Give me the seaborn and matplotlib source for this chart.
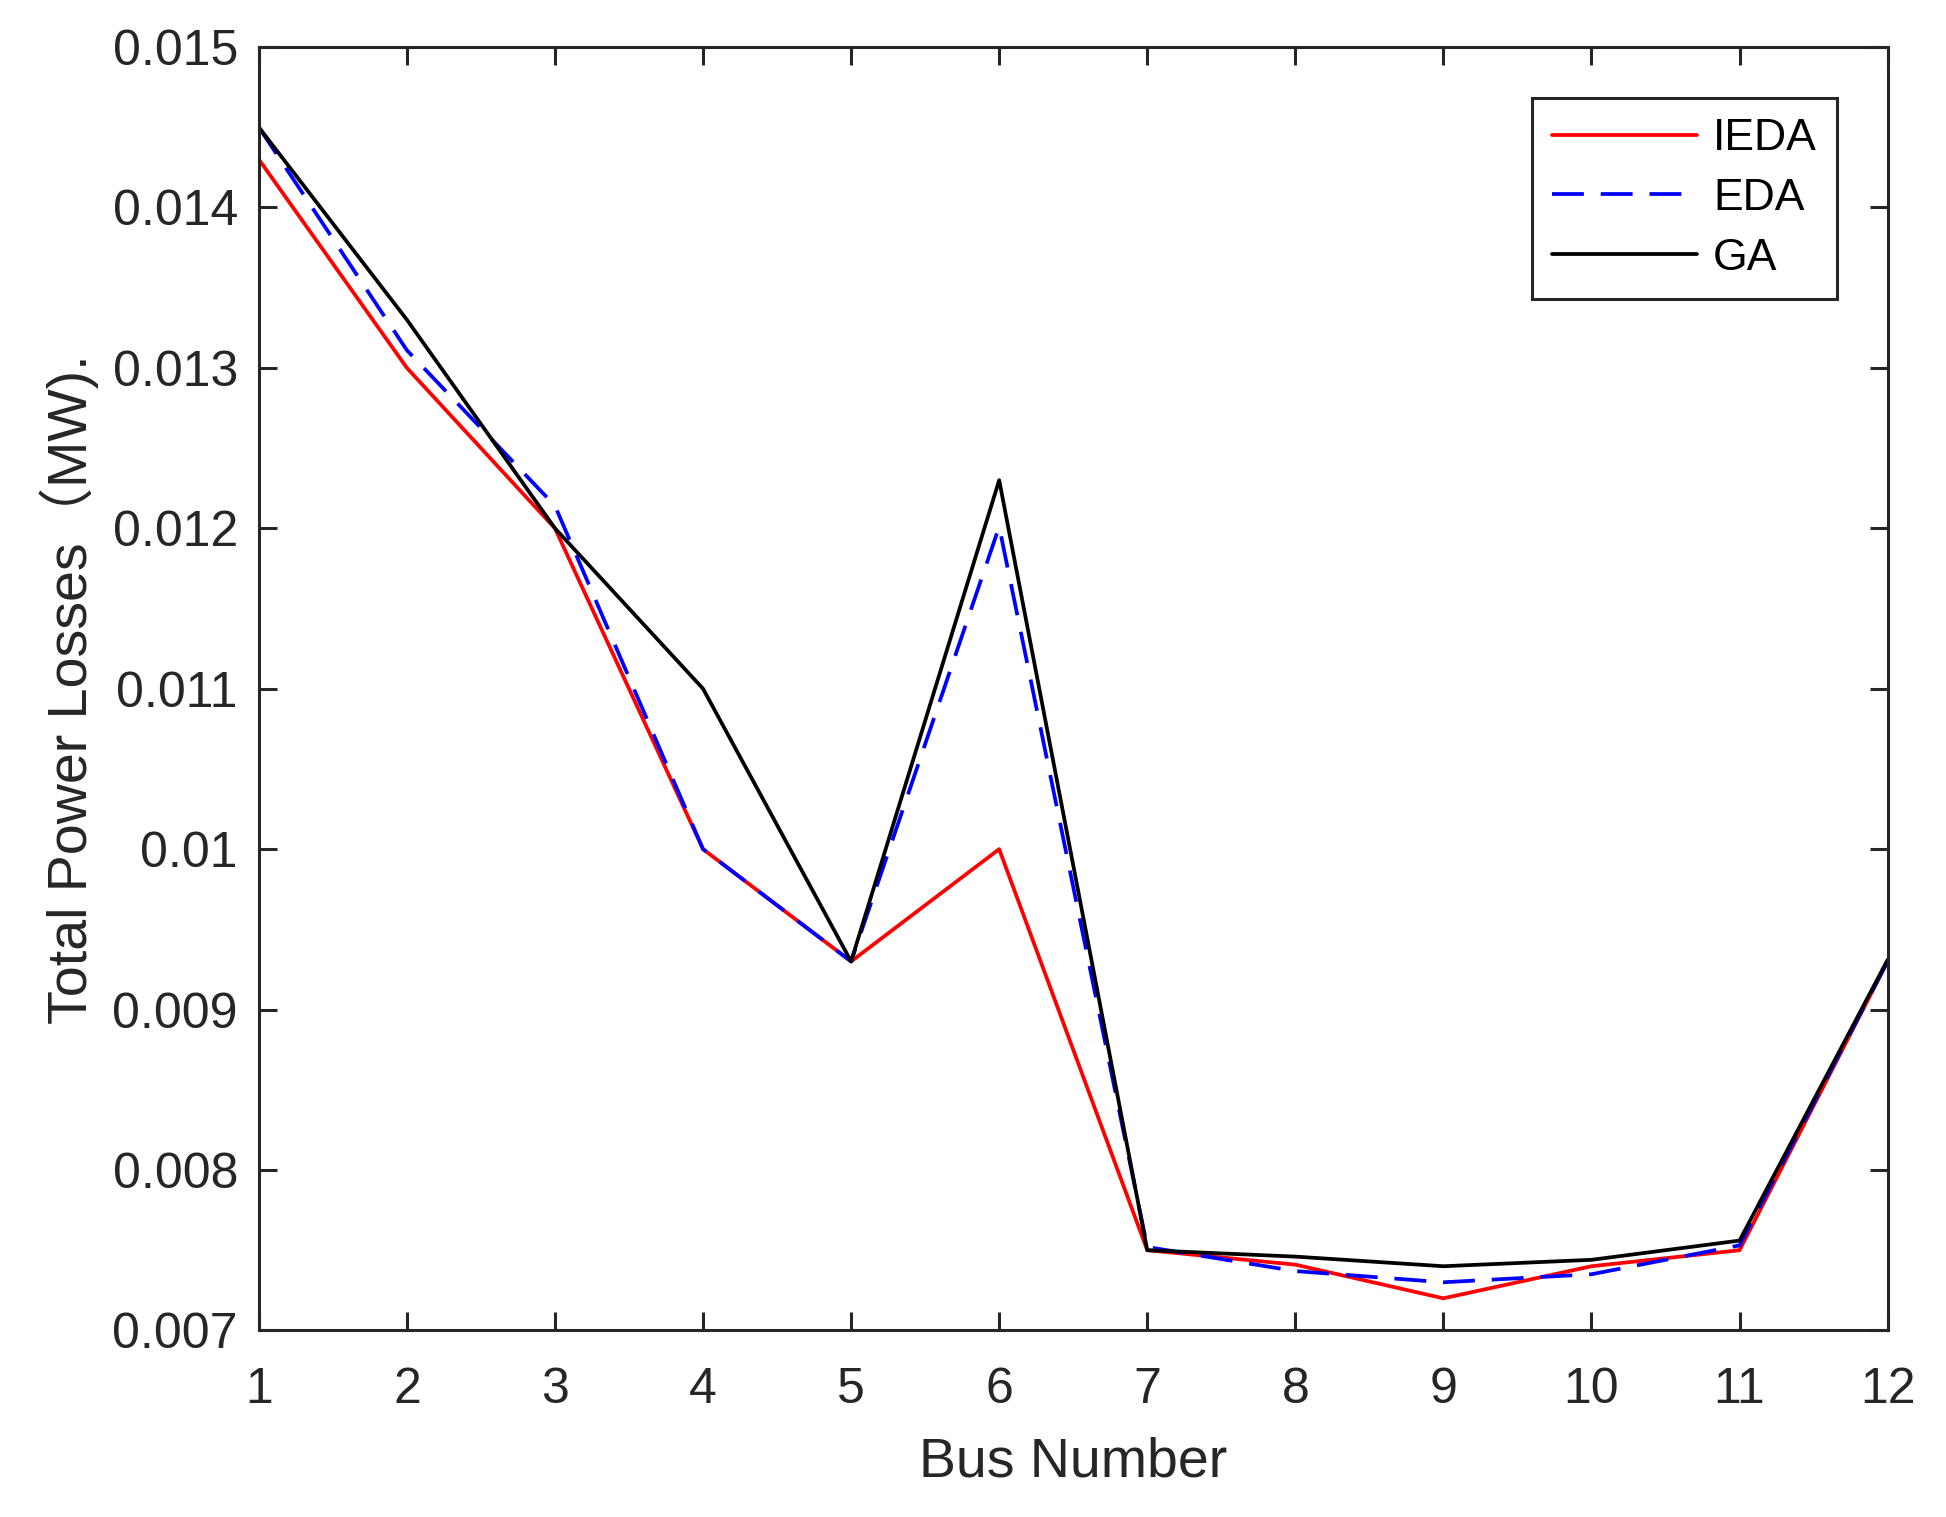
import pandas as pd
import matplotlib
matplotlib.use("Agg")
import matplotlib.pyplot as plt
import seaborn as sns

# data
bus = [1, 2, 3, 4, 5, 6, 7, 8, 9, 10, 11, 12]
ieda = [0.0143, 0.0130, 0.0120, 0.0100, 0.0093, 0.0100, 0.0075, 0.00741, 0.0072, 0.0074, 0.0075, 0.0093]
eda = [0.0145, 0.01311, 0.01214, 0.0100, 0.0093, 0.01201, 0.00752, 0.00737, 0.0073, 0.00735, 0.00753, 0.0093]
ga = [0.0145, 0.0133, 0.0120, 0.0110, 0.0093, 0.0123, 0.0075, 0.00746, 0.0074, 0.00744, 0.00756, 0.00931]

methods = ["IEDA", "EDA", "GA"]
yticks = [0.007, 0.008, 0.009, 0.01, 0.011, 0.012, 0.013, 0.014, 0.015]
ytick_labels = ["0.007", "0.008", "0.009", "0.01", "0.011", "0.012", "0.013", "0.014", "0.015"]

df = pd.DataFrame({
    "Bus": bus * 3,
    "Loss": ieda + eda + ga,
    "Method": ["IEDA"] * 12 + ["EDA"] * 12 + ["GA"] * 12,
})

sns.set_style("ticks")
plt.rcParams["font.family"] = ["Liberation Sans", "Noto Sans CJK SC", "DejaVu Sans"]

dark = "#262626"
fig = plt.figure(figsize=(19.46, 15.17), dpi=100)
ax = fig.add_axes([0.133, 0.123, 0.837, 0.846])

ax = sns.lineplot(
    data=df, x="Bus", y="Loss", hue="Method", style="Method",
    hue_order=methods, style_order=methods,
    palette={"IEDA": "#ff0000", "EDA": "#0000ff", "GA": "#000000"},
    dashes={"IEDA": "", "EDA": (8.5, 4.5), "GA": ""},
    linewidth=2.7, ax=ax,
)

ax.set_xlim(1, 12)
ax.set_ylim(0.007, 0.015)
ax.set_xticks(bus)
ax.set_xticklabels([str(b) for b in bus])
ax.set_yticks(yticks)
ax.set_yticklabels(ytick_labels)

ax.tick_params(direction="in", length=13, width=2.2, labelsize=36, colors=dark,
               top=True, right=True)
ax.tick_params(axis="x", pad=26)
ax.tick_params(axis="y", pad=15)
for s in ax.spines.values():
    s.set_visible(True)
    s.set_color(dark)
    s.set_linewidth(2.2)

ax.set_xlabel("Bus Number", fontsize=40, color=dark)
ax.set_ylabel("Total Power Losses（MW).", fontsize=40, color=dark)
ax.xaxis.set_label_coords(0.5, -0.083)
ax.yaxis.set_label_coords(-0.098, 0.5)

leg = ax.legend(loc="upper right", bbox_to_anchor=(0.9687, 0.960), borderaxespad=0,
                fontsize=32, handlelength=3.27, handletextpad=0.36, labelspacing=0.42,
                borderpad=0.45, fancybox=False, framealpha=1)
leg.get_frame().set_edgecolor(dark)
leg.get_frame().set_linewidth(2.2)
for t in leg.get_texts():
    t.set_color("black")

plt.savefig("out.png", dpi=100)
